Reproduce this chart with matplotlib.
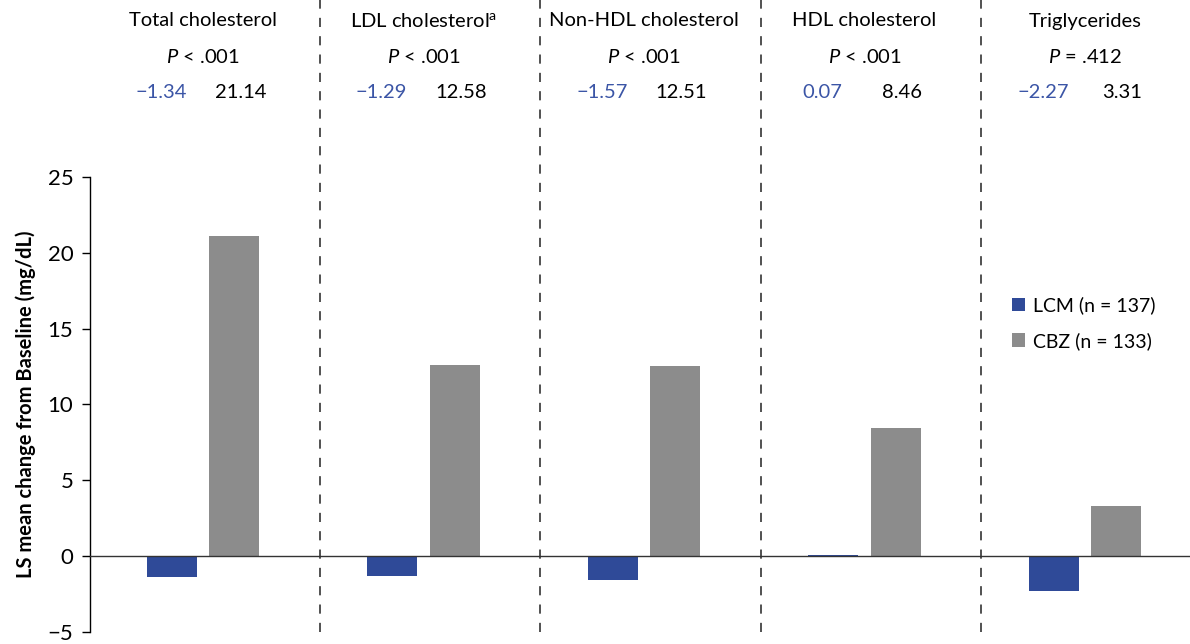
import matplotlib.pyplot as plt
import matplotlib.transforms as mtransforms
import numpy as np

plt.rcParams['font.family'] = ['Lato', 'DejaVu Sans']
plt.rcParams['mathtext.fontset'] = 'custom'
plt.rcParams['mathtext.rm'] = 'Lato'
plt.rcParams['mathtext.it'] = 'Lato:italic'

categories = ["Total cholesterol", "LDL cholesterol$^{\\mathrm{a}}$", "Non-HDL cholesterol",
              "HDL cholesterol", "Triglycerides"]
p_values = ["$P$ < .001", "$P$ < .001", "$P$ < .001", "$P$ < .001", "$P$ = .412"]
lcm = [-1.34, -1.29, -1.57, 0.07, -2.27]
cbz = [21.14, 12.58, 12.51, 8.46, 3.31]
series_labels = ["LCM (n = 137)", "CBZ (n = 133)"]

blue = "#2F4A98"
gray = "#8C8C8C"
text_blue = "#3B55A6"

fig = plt.figure(figsize=(11.9, 6.44), dpi=100)
ax = fig.add_axes([0.0756, 0.0186, 0.9244, 0.7066])

x = np.arange(len(categories))
w = 0.227
ax.bar(x - 0.142, lcm, w, color=blue, label=series_labels[0])
ax.bar(x + 0.142, cbz, w, color=gray, label=series_labels[1])

ax.set_xlim(-0.512, 4.476)
ax.set_ylim(-5, 25)
ax.set_yticks(range(-5, 30, 5))
ax.set_yticklabels(["\u22125" if t < 0 else str(t) for t in range(-5, 30, 5)], fontsize=16)
ax.set_xticks([])
for s in ["top", "right", "bottom"]:
    ax.spines[s].set_visible(False)
ax.spines["left"].set_linewidth(1.0)
ax.tick_params(axis="y", length=6, width=1.0, pad=6)
ax.axhline(0, color="#333333", lw=1.0, zorder=3)
ax.set_ylabel("LS mean change from Baseline (mg/dL)", fontsize=14.5, fontweight="bold", labelpad=8)

# dashed separators running up through the header
trans = mtransforms.blended_transform_factory(ax.transData, fig.transFigure)
for xs in x[:-1] + 0.53:
    ax.plot([xs, xs], [0.0186, 1.0], transform=trans, color="#222222", lw=1.1,
            ls=(0, (6, 6)), clip_on=False)

# header text per group
for i in range(len(categories)):
    ax.text(x[i], 1 - 21 / 644, categories[i], transform=trans, ha="center", va="center", fontsize=14.5)
    ax.text(x[i], 1 - 57 / 644, p_values[i], transform=trans, ha="center", va="center", fontsize=14.5)
    ax.text(x[i] - 0.19, 1 - 93 / 644, f"{lcm[i]:.2f}".replace("-", "\u2212"), transform=trans,
            ha="center", va="center", fontsize=14.5, color=text_blue)
    ax.text(x[i] + 0.17, 1 - 93 / 644, f"{cbz[i]:.2f}", transform=trans,
            ha="center", va="center", fontsize=14.5)

ax.legend(loc="upper left", bbox_to_anchor=(0.822, 0.776), frameon=False, fontsize=14,
          handlelength=0.7, handleheight=0.7, handletextpad=0.4, labelspacing=0.9)

fig.savefig("out.png", dpi=100)
